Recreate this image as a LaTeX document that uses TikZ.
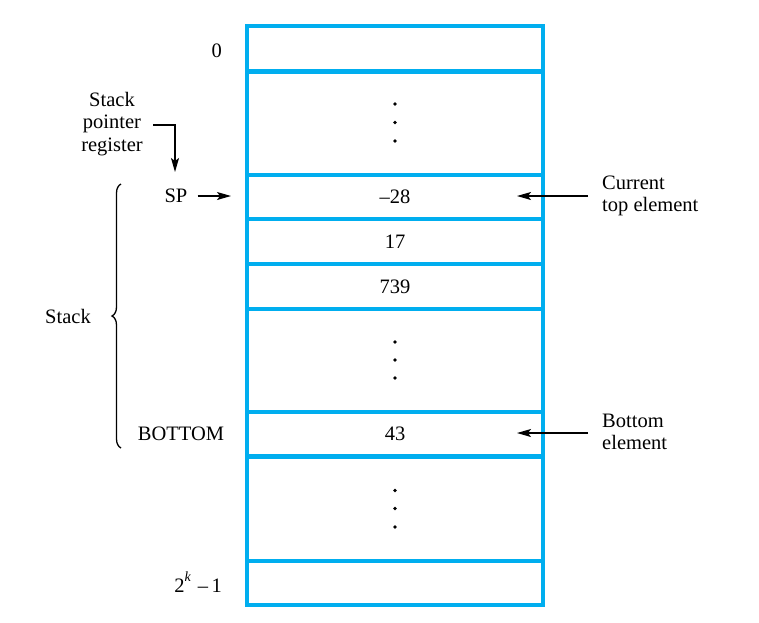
\documentclass[tikz,border=0pt]{standalone}
\usepackage{fontspec}
\setmainfont{Liberation Serif}
\usetikzlibrary{arrows.meta,decorations.pathreplacing}
\definecolor{memblue}{RGB}{0,174,239}
\tikzset{
	word/.style={draw,memblue,line width=4.3pt,minimum width=296pt,inner sep=0pt,text=black},
	ptr/.style={line width=1.3pt,-{Stealth[length=14pt,width=8pt,inset=3pt]}},
	lbl/.style={inner sep=0pt},
	dot/.style={circle,fill,black,inner sep=0pt,minimum size=3.6pt}
}
\begin{document}
\begin{tikzpicture}[x=1pt,y=-1pt,every node/.style={font=\fontsize{20.5}{22.5}\selectfont}]
					\useasboundingbox (0,0) rectangle (759,622);
					
					% memory words, top to bottom
					\node[word,minimum height=45.5pt]  (first)  at (395,48.75) {};
					\node[word,minimum height=103.5pt] (gapA)   at (395,123.25) {};
					\node[word,minimum height=44pt]    (topw)   at (395,197) {--28};
					\node[word,minimum height=45pt]    (wordb)  at (395,241.5) {17};
					\node[word,minimum height=45pt]    (wordc)  at (395,286.5) {739};
					\node[word,minimum height=103pt]   (gapB)   at (395,360.5) {};
					\node[word,minimum height=44.5pt]  (botw)   at (395,434.25) {43};
					\node[word,minimum height=104.5pt] (gapC)   at (395,508.75) {};
					\node[word,minimum height=44pt]    (last)   at (395,583) {};
					
					% the vertical dots
					\foreach \y in {104,122.5,141,342,360,378,490.5,508.5,527}{%
						\node[dot] at (395,\y) {};
					}
					
					% addresses on the left
					\node[lbl,anchor=east] (addrzero) at (222,51) {0};
					\node[lbl,anchor=east] (addrlast) at (222,582) {2\raisebox{0.55em}{\fontsize{14}{14}\selectfont\textit{k}}\,\,--\,1};
					\node[lbl,align=center] (spreg) at (112,124) {Stack\\pointer\\register};
					\node[lbl] (sp)  at (176,196) {SP};
					\node[lbl] (bottom) at (181,434) {BOTTOM};
					\node[lbl] (stack) at (68,316) {Stack};
					
					\coordinate (spregtail) at (153,125);
					\coordinate (spregtip)  at (175,172);
					\coordinate (sptip) at (231,196);
					
					\draw [ptr] (spregtail) -| (spregtip);
					\draw [ptr] (sp.east) ++(10,0) -- (sptip);
					
					\draw [line width=1.3pt,decorate,decoration={brace,amplitude=9pt}]
					(121,448) -- (121,184);
					
					% labels on the right
					\node[lbl,align=left,anchor=west] (curtop) at (602,196) {Current\\top element};
					\node[lbl,align=left,anchor=west] (botel)  at (602,432) {Bottom\\element};
					
					\coordinate (curtip) at (517,196);
					\coordinate (bottip) at (517,433);
					
					\draw [ptr] (curtop.west) ++(-14,0) -- (curtip);
					\draw [ptr] (botel.west) ++(-14,1) -- (bottip);
					
\end{tikzpicture}
\end{document}
